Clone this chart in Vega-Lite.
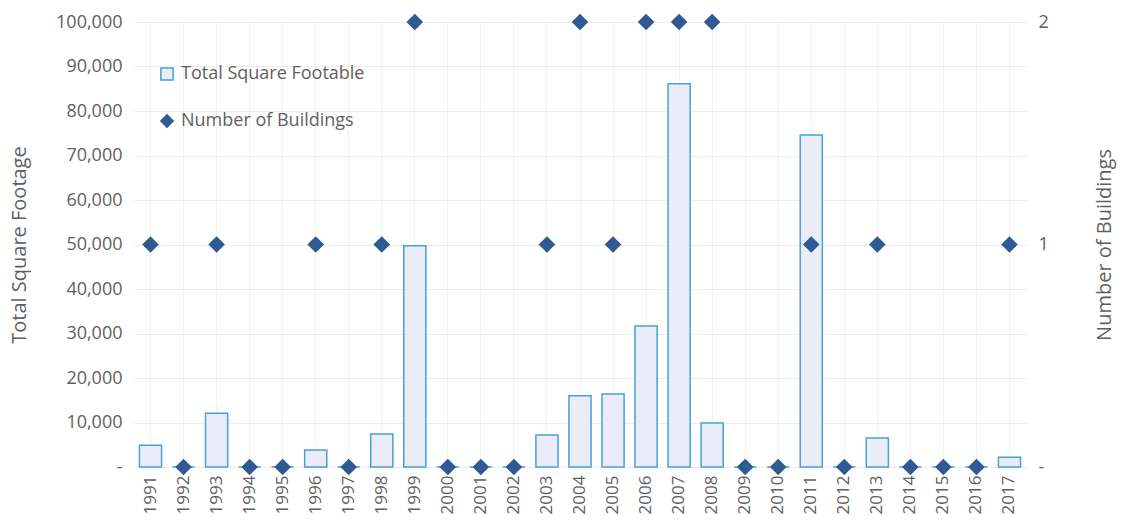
{
  "$schema": "https://vega.github.io/schema/vega-lite/v6.json",
  "width": 892,
  "height": 445,
  "autosize": {"type": "none"},
  "padding": {"left": 134, "top": 22, "right": 97, "bottom": 64},
  "background": "white",
  "config": {
    "font": "Open Sans",
    "view": {"stroke": null},
    "axis": {"labelColor": "#5f5f5f", "titleColor": "#5f5f5f", "titleFontWeight": "normal", "domain": false, "ticks": false, "gridColor": "#ececec", "gridWidth": 1, "labelOverlap": false},
    "legend": {"labelFont": "Open Sans", "labelFontSize": 18, "labelColor": "#5f5f5f", "labelLimit": 0}
  },
  "data": {
    "values": [
      {"year": "1991", "sqft": 4900, "buildings": 1},
      {"year": "1992", "sqft": 0, "buildings": 0},
      {"year": "1993", "sqft": 12100, "buildings": 1},
      {"year": "1994", "sqft": 0, "buildings": 0},
      {"year": "1995", "sqft": 0, "buildings": 0},
      {"year": "1996", "sqft": 3800, "buildings": 1},
      {"year": "1997", "sqft": 0, "buildings": 0},
      {"year": "1998", "sqft": 7400, "buildings": 1},
      {"year": "1999", "sqft": 49700, "buildings": 2},
      {"year": "2000", "sqft": 0, "buildings": 0},
      {"year": "2001", "sqft": 0, "buildings": 0},
      {"year": "2002", "sqft": 0, "buildings": 0},
      {"year": "2003", "sqft": 7200, "buildings": 1},
      {"year": "2004", "sqft": 16000, "buildings": 2},
      {"year": "2005", "sqft": 16400, "buildings": 1},
      {"year": "2006", "sqft": 31700, "buildings": 2},
      {"year": "2007", "sqft": 86100, "buildings": 2},
      {"year": "2008", "sqft": 9900, "buildings": 2},
      {"year": "2009", "sqft": 0, "buildings": 0},
      {"year": "2010", "sqft": 0, "buildings": 0},
      {"year": "2011", "sqft": 74600, "buildings": 1},
      {"year": "2012", "sqft": 0, "buildings": 0},
      {"year": "2013", "sqft": 6500, "buildings": 1},
      {"year": "2014", "sqft": 0, "buildings": 0},
      {"year": "2015", "sqft": 0, "buildings": 0},
      {"year": "2016", "sqft": 0, "buildings": 0},
      {"year": "2017", "sqft": 2200, "buildings": 1}
    ]
  },
  "encoding": {
    "x": {
      "field": "year",
      "type": "ordinal",
      "scale": {"paddingInner": 0.33, "paddingOuter": 0.165},
      "axis": {"title": null, "labelAngle": -90, "labelFontSize": 17, "labelPadding": 8, "grid": true, "gridColor": "#f0f0f0"}
    }
  },
  "layer": [
    {
      "mark": {"type": "bar", "strokeWidth": 1.5},
      "encoding": {
        "y": {
          "field": "sqft",
          "type": "quantitative",
          "scale": {"domain": [0, 100000], "nice": false},
          "axis": {"title": "Total Square Footage", "titleFontSize": 20, "titlePadding": 26, "labelFontSize": 18, "labelPadding": 12, "values": [0,10000,20000,30000,40000,50000,60000,70000,80000,90000,100000], "labelExpr": "datum.value == 0 ? '-' : format(datum.value, ',')"}
        },
        "fill": {
          "datum": "Total Square Footable",
          "scale": {"domain": ["Total Square Footable", "Number of Buildings"], "range": ["#eaedf7", "#2f5a94"]},
          "legend": {"title": null, "orient": "none", "legendX": 24, "legendY": 43, "rowPadding": 27, "symbolSize": 150, "symbolStrokeWidth": 1.5, "labelOffset": 5}
        },
        "stroke": {
          "datum": "Total Square Footable",
          "scale": {"domain": ["Total Square Footable", "Number of Buildings"], "range": ["#46a1d9", "#2f5a94"]},
          "legend": {"title": null, "orient": "none", "legendX": 24, "legendY": 43}
        }
      }
    },
    {
      "mark": {"type": "point", "filled": true, "size": 190, "opacity": 1},
      "encoding": {
        "y": {
          "field": "buildings",
          "type": "quantitative",
          "scale": {"domain": [0, 2], "nice": false},
          "axis": {"orient": "right", "title": "Number of Buildings", "titleAngle": 270, "titleFontSize": 20, "titlePadding": 66, "labelFontSize": 18, "labelPadding": 12, "grid": false, "values": [0, 1, 2], "labelExpr": "datum.value == 0 ? '-' : format(datum.value, 'd')"}
        },
        "shape": {
          "datum": "Number of Buildings",
          "scale": {"domain": ["Total Square Footable", "Number of Buildings"], "range": ["square", "diamond"]},
          "legend": {"title": null, "orient": "none", "legendX": 24, "legendY": 43}
        },
        "fill": {"datum": "Number of Buildings"},
        "stroke": {"datum": "Number of Buildings"}
      }
    }
  ],
  "resolve": {"scale": {"y": "independent"}}
}
